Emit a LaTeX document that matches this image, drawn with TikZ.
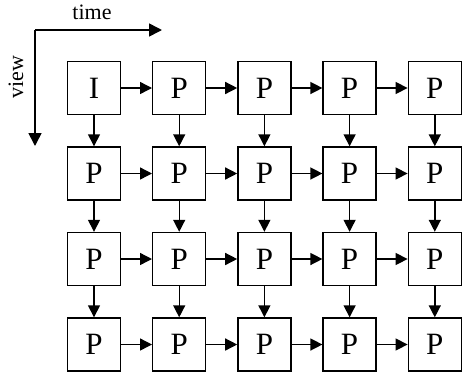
\documentclass[tikz,border=0pt]{standalone}
\usepackage{fontspec}
\setmainfont{Liberation Serif}
\usetikzlibrary{arrows.meta}
\begin{document}
\begin{tikzpicture}[x=1pt,y=-1pt,
  frame/.style={draw,line width=1.4pt,minimum size=53pt,inner sep=0pt,
    font=\fontsize{31}{31}\selectfont},
  link/.style={line width=1.4pt,-{Triangle[length=12pt,width=12pt]}},
  axis/.style={line width=1.6pt,-{Triangle[length=13pt,width=13pt]}}]
\useasboundingbox (0,0) rectangle (462,373);
% axes
\coordinate (origin) at (35,30);
\coordinate (tend) at (162,30);
\coordinate (vend) at (35,146);
\draw[axis] (origin) -- (tend);
\draw[axis] (origin) -- (vend);
\node[font=\fontsize{22}{22}\selectfont] (tlabel) at (92,12) {time};
\node[font=\fontsize{22}{22}\selectfont,rotate=90] (vlabel) at (16,77) {view};
% frames
\foreach \r in {0,...,3}{
  \foreach \c in {0,...,4}{
    \pgfmathsetmacro{\xx}{94+85.2*\c}
    \pgfmathsetmacro{\yy}{88+85.5*\r}
    \ifnum\r=0 \ifnum\c=0
      \node[frame] (n\r\c) at (\xx,\yy) {I};
    \else
      \node[frame] (n\r\c) at (\xx,\yy) {P};
    \fi\else
      \node[frame] (n\r\c) at (\xx,\yy) {P};
    \fi
  }
}
% horizontal links: first and last row
\foreach \r in {0,3}{
  \foreach \c/\d in {0/1,1/2,2/3,3/4}{
    \draw[link] (n\r\c) -- (n\r\d);
  }
}
% horizontal links in middle rows
\foreach \r in {1,2}{
  \foreach \c/\d in {0/1,1/2,2/3,3/4}{
    \draw[link] (n\r\c) -- (n\r\d);
  }
}
% vertical links
\foreach \r/\s in {0/1,1/2,2/3}{
  \foreach \c in {0,...,4}{
    \draw[link] (n\r\c) -- (n\s\c);
  }
}
\end{tikzpicture}
\end{document}
